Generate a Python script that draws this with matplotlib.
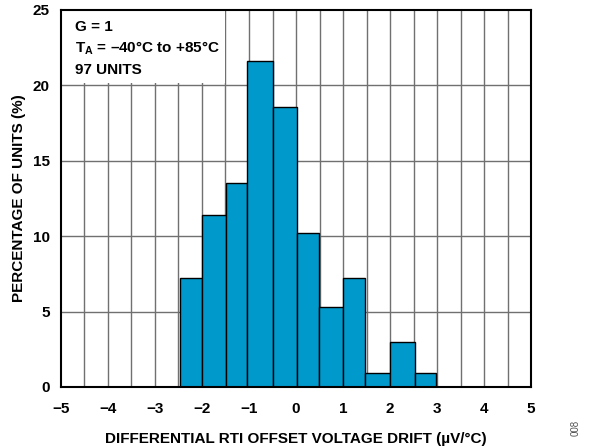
import numpy as np
import matplotlib
matplotlib.use('Agg')
import matplotlib.pyplot as plt

# bin edges (uV/degC) and bar heights (% of units)
bin_edges = [-2.47, -2.01, -1.49, -1.04, -0.50, 0.03, 0.49, 1.01, 1.47, 2.0, 2.53, 2.98]
percent = [7.2, 11.4, 13.5, 21.6, 18.6, 10.2, 5.3, 7.2, 0.95, 3.0, 0.95]

x_ticks = [-5, -4, -3, -2, -1, 0, 1, 2, 3, 4, 5]
x_tick_labels = ['\u22125', '\u22124', '\u22123', '\u22122', '\u22121', '0', '1', '2', '3', '4', '5']
y_ticks = [0, 5, 10, 15, 20, 25]

plt.rcParams['font.family'] = ['Liberation Sans', 'DejaVu Sans']
plt.rcParams['font.weight'] = 'bold'
plt.rcParams['mathtext.fontset'] = 'custom'
plt.rcParams['mathtext.bf'] = 'Liberation Sans:bold'

fig = plt.figure(figsize=(5.91, 4.48), dpi=100)
ax = fig.add_axes([0.1032, 0.1362, 0.7953, 0.8415])

edges = np.array(bin_edges)
ax.bar(edges[:-1], percent, width=np.diff(edges), align='edge',
       color='#0099cc', edgecolor='black', linewidth=1.0, zorder=3)

# grid: verticals every 0.5, horizontals every 5
for gx in np.arange(-4.5, 5, 0.5):
    ax.axvline(gx, color='#707070', linewidth=1.0, zorder=1)
for gy in y_ticks[1:-1]:
    ax.axhline(gy, color='#707070', linewidth=1.0, zorder=1)

ax.set_xlim(-5, 5)
ax.set_ylim(0, 25)
ax.set_xticks(x_ticks)
ax.set_xticklabels(x_tick_labels)
ax.set_yticks(y_ticks)
ax.tick_params(axis='x', length=0, labelsize=11, pad=11)
ax.tick_params(axis='y', length=0, labelsize=11, pad=8)
for lab in ax.get_xticklabels() + ax.get_yticklabels():
    lab.set_fontweight('bold')
for s in ax.spines.values():
    s.set_linewidth(1.5)
    s.set_zorder(5)

# white annotation box in the top-left corner
ax.add_patch(plt.Rectangle((-5, 20.15), 3.5, 4.85, facecolor='white', edgecolor='none', zorder=2))
ax.text(-4.7, 23.85, 'G = 1', fontsize=11, fontweight='bold', va='center', zorder=4)
ax.text(-4.7, 22.5, 'T$_{\\mathbf{A}}$ = \u201340\u00b0C to +85\u00b0C', fontsize=11, fontweight='bold', va='center', zorder=4)
ax.text(-4.7, 21.05, '97 UNITS', fontsize=11, fontweight='bold', va='center', zorder=4)

ax.set_xlabel('DIFFERENTIAL RTI OFFSET VOLTAGE DRIFT (\u00b5V/\u00b0C)', fontsize=11, fontweight='bold', labelpad=11)
ax.set_ylabel('PERCENTAGE OF UNITS (%)', fontsize=11, fontweight='bold', labelpad=5)

fig.text(0.974, 0.045, '008', rotation=90, fontsize=7, color='#555555', fontweight='normal', ha='center', va='center')

fig.savefig('out.png', dpi=100)
